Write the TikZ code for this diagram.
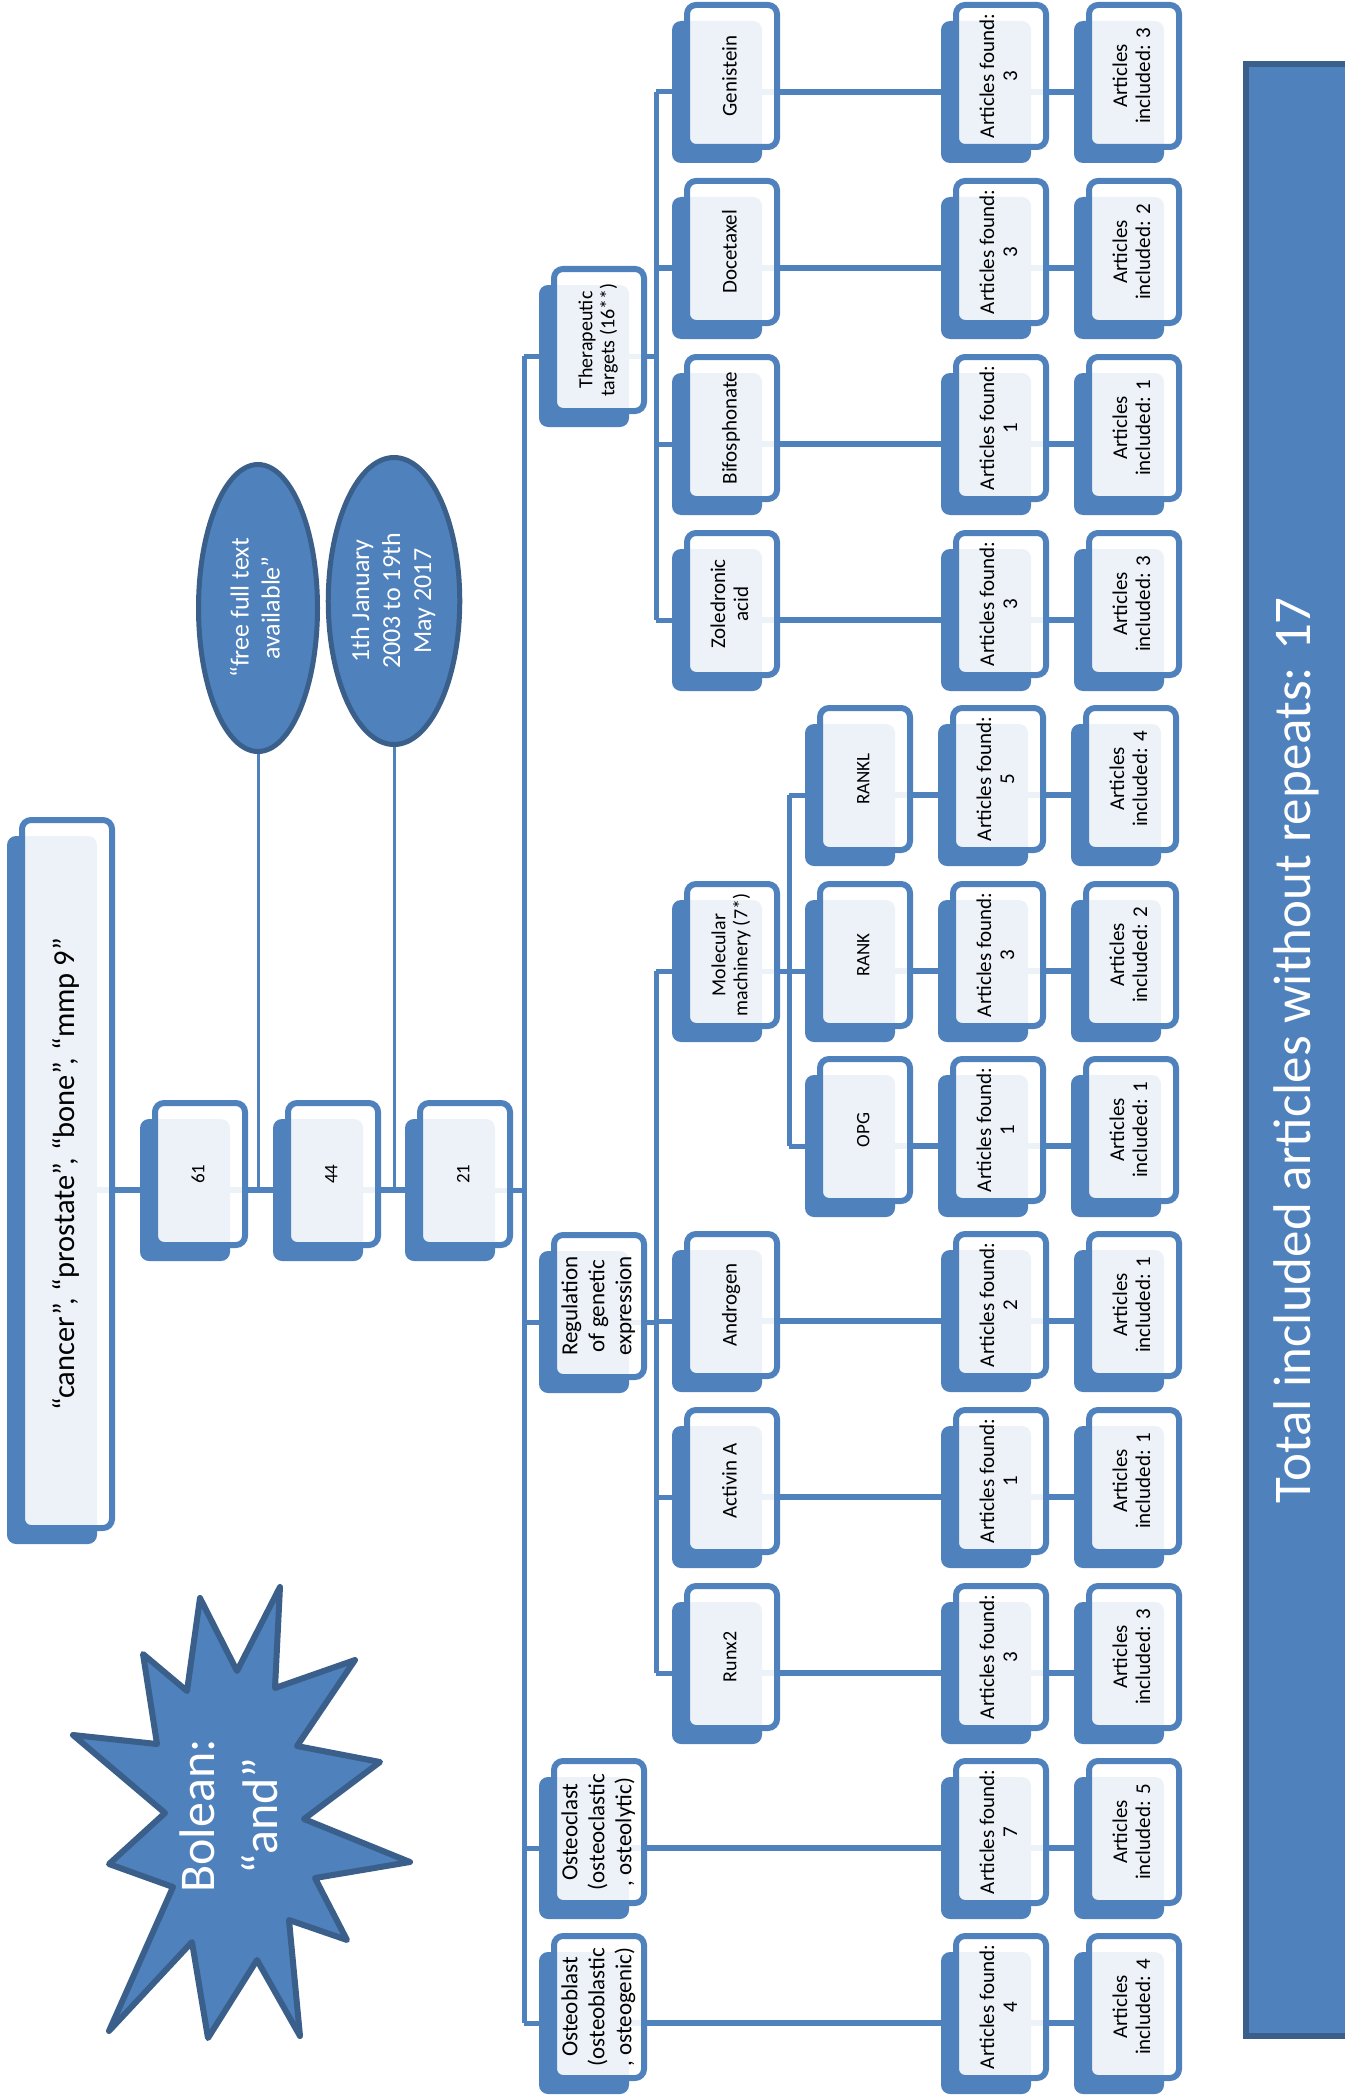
\documentclass[tikz,border=0pt]{standalone}
\usepackage{fontspec}
\setmainfont{Carlito}
\usetikzlibrary{shapes.geometric,shadows,backgrounds}
\definecolor{boxblue}{HTML}{4F81BD}
\definecolor{edgeblue}{HTML}{3A5F8B}
\newcommand\rot[1]{\rotatebox{90}{\begin{tabular}{@{}c@{}}#1\end{tabular}}}
\tikzset{
  card/.style={draw=boxblue, line width=6pt, rounded corners=9pt, fill=white, fill opacity=0.9, text opacity=1,
    inner sep=0pt, minimum width=90pt, minimum height=142pt, font=\fontsize{21}{23}\selectfont,
    general shadow={draw=none, fill=boxblue, fill opacity=1, shadow xshift=-15pt, shadow yshift=-16pt}},
  small/.style={card, font=\fontsize{19}{22}\selectfont},
  hub/.style={card, font=\fontsize{23}{27}\selectfont},
  group/.style={card, font=\fontsize{20}{22}\selectfont},
  filter/.style={ellipse, draw=edgeblue, line width=5pt, fill=boxblue, text=white, inner sep=0pt,
    minimum width=119pt, minimum height=287pt, font=\fontsize{26}{31}\selectfont},
  link/.style={draw=boxblue, line width=6pt, transform canvas={yshift=-16pt}},
  bus/.style={draw=boxblue, line width=5pt, transform canvas={yshift=-16pt}},
  feed/.style={draw=boxblue, line width=3pt, transform canvas={yshift=-16pt}},
  burst/.style={draw=edgeblue, line width=6pt, line join=round, fill=boxblue},
  tbar/.style={draw=edgeblue, line width=6pt, fill=boxblue, text=white, inner sep=0pt,
    minimum width=104pt, minimum height=1972pt, font=\fontsize{53}{62}\selectfont}
}
\begin{document}
\begin{tikzpicture}[x=1pt, y=-1pt]
\useasboundingbox (0,0) rectangle (1344,2100);
\coordinate (mb) at (524,0);
\coordinate (tb) at (656,0);
\coordinate (rb) at (656,0);
\coordinate (mlb) at (789,0);

\node[card, minimum height=708pt, font=\fontsize{30.5}{36}\selectfont] (kw) at (67,1174) {\rot{“cancer”, “prostate”, “bone”, “mmp 9”}};
\node[small] (n61) at (200,1174) {\rot{61}};
\node[small] (n44) at (333,1174) {\rot{44}};
\node[small] (n21) at (465,1174) {\rot{21}};
\node[filter] (free) at (258,608) {\rot{“free full text\\available”}};
\node[filter] (date) at (394,601) {\rot{1th January\\2003 to 19th\\May 2017}};

\node[group] (ther) at (599,340) {\rot{Therapeutic\\targets (16**)}};
\node[hub] (regu) at (599,1306) {\rot{Regulation\\of genetic\\expression}};
\node[hub] (clast) at (599,1832) {\rot{Osteoclast\\(osteoclastic\\, osteolytic)}};
\node[hub] (blast) at (599,2007) {\rot{Osteoblast\\(osteoblastic\\, osteogenic)}};

\node[card] (gen) at (732,76) {\rot{Genistein}};
\node[card] (doc) at (732,252) {\rot{Docetaxel}};
\node[card] (bif) at (732,428) {\rot{Bifosphonate}};
\node[card] (zol) at (732,604) {\rot{Zoledronic\\acid}};
\node[group] (mol) at (732,955) {\rot{Molecular\\machinery (7*)}};
\node[card] (andr) at (732,1305) {\rot{Androgen}};
\node[card] (act) at (732,1481) {\rot{Activin A}};
\node[card, font=\fontsize{20}{22}\selectfont] (runx) at (732,1657) {\rot{Runx2}};
\node[small] (rankl) at (865,779) {\rot{RANKL}};
\node[small] (rank) at (865,955) {\rot{RANK}};
\node[small] (opg) at (865,1130) {\rot{OPG}};

\foreach \nm/\y/\fx/\nf/\ni in {gen/76/1001/3/3, doc/252/1001/3/2, bif/428/1001/1/1, zol/604/1001/3/3,
  rankl/779/998/5/4, rank/955/998/3/2, opg/1130/998/1/1, andr/1305/1001/2/1, act/1481/1001/1/1,
  runx/1657/1001/3/3, clast/1832/1001/7/5, blast/2007/1001/4/4}{
  \node[card] (f\nm) at (\fx,\y) {\rot{Articles found:\\\nf}};
  \node[card] (i\nm) at (\fx+133,\y) {\rot{Articles\\included: \ni}};
  \begin{scope}[on background layer]
    \draw[link] (\nm.center) -- (f\nm.center) -- (i\nm.center);
  \end{scope}
}

\begin{scope}[on background layer]
  \draw[link] (kw.center) -- (n61.center) -- (n44.center) -- (n21.center);
  \draw[feed] (free.center) -- (free.center |- n61.center);
  \draw[feed] (date.center) -- (date.center |- n44.center);
  \draw[bus] (n21.center) -- (n21 -| mb);
  \draw[bus] (ther -| mb) -- (blast -| mb);
  \foreach \c in {ther,regu,clast,blast} \draw[bus] (\c -| mb) -- (\c.center);
  \draw[bus] (ther.center) -- (ther -| tb);
  \draw[bus] (gen -| tb) -- (zol -| tb);
  \foreach \c in {gen,doc,bif,zol} \draw[bus] (\c -| tb) -- (\c.center);
  \draw[bus] (regu.center) -- (regu -| rb);
  \draw[bus] (mol -| rb) -- (runx -| rb);
  \foreach \c in {mol,andr,act,runx} \draw[bus] (\c -| rb) -- (\c.center);
  \draw[bus] (mol.center) -- (mol -| mlb);
  \draw[bus] (rankl -| mlb) -- (opg -| mlb);
  \foreach \c in {rankl,rank,opg} \draw[bus] (\c -| mlb) -- (\c.center);
\end{scope}

\draw[burst] (280,1587) -- (275,1688) -- (355,1660) -- (297,1746) -- (380,1762) -- (304,1819)
  -- (410,1862) -- (315,1878) -- (347,1940) -- (289,1920) -- (300,2036) -- (257,1960)
  -- (208,2038) -- (192,1942) -- (109,2031) -- (173,1887) -- (109,1864) -- (165,1813)
  -- (73,1735) -- (157,1744) -- (143,1654) -- (187,1691) -- (200,1598) -- (237,1671) -- cycle;
\node[text=white, font=\fontsize{50}{63}\selectfont] (bool) at (233,1816) {\rot{Bolean:\\“and”}};

\node[tbar] (total) at (1298,1050) {\rot{Total included articles without repeats: 17}};
\end{tikzpicture}
\end{document}
